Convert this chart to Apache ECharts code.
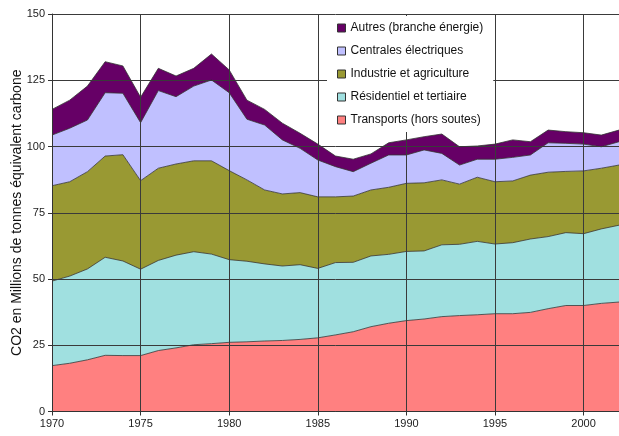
<!DOCTYPE html>
<html>
<head>
<meta charset="utf-8">
<script src="https://cdn.jsdelivr.net/npm/echarts@6/dist/echarts.min.js"></script>
<style>
    html, body { margin: 0; padding: 0; background: #fff; }
    #main { width: 619px; height: 436px; }
</style>
</head>
<body>
<div id="main"></div>
<script>
// années
var years = []
for (var y = 1970; y <= 2002; y++) years.push(String(y))

// valeurs par secteur (MtC)
var transports = [17.3, 18.2, 19.5, 21.2, 21.1, 21.1, 23, 24, 25.2, 25.6, 26.1, 26.3, 26.6, 26.8, 27.2, 27.8, 28.9, 30.1, 32, 33.3, 34.3, 34.9, 35.8, 36.2, 36.5, 36.9, 36.9, 37.4, 38.8, 40, 40, 40.8, 41.3]
var residentiel = [31.9, 32.9, 34.3, 37, 35.7, 32.6, 34, 35, 35.1, 33.8, 31.2, 30.4, 29.1, 28.1, 28.2, 26.2, 27.3, 26.2, 26.7, 26, 26.1, 25.7, 27.1, 26.9, 27.7, 26.3, 26.8, 27.7, 27.2, 27.5, 27.1, 28.1, 29]
var industrie = [36, 35.6, 36.7, 38.2, 40.1, 33.4, 34.8, 34.4, 34.3, 35.2, 33.6, 30.7, 27.9, 27.2, 27.2, 27, 24.8, 25, 24.9, 25.3, 25.7, 25.7, 24.5, 22.7, 24.2, 23.5, 23.3, 24.1, 24.3, 23.1, 23.7, 22.9, 22.7]
var centrales = [19.1, 20.2, 19.5, 23.9, 23.2, 21.9, 29.3, 25.4, 28.2, 30.5, 29.4, 22.9, 24.5, 20.4, 16.7, 13.9, 11.4, 9.2, 10.1, 12.2, 10.7, 12.4, 10, 7.2, 6.8, 8.5, 8.9, 7.6, 11.1, 10.6, 10.1, 8.1, 8.8]
var autres = [9.7, 10.6, 12.8, 11.7, 10.3, 9.6, 8.4, 7.8, 6.7, 9.8, 8.6, 7.2, 5.9, 6.3, 5.7, 6, 4, 4.7, 3.5, 4.6, 5.7, 5, 7.3, 6.9, 5, 5.7, 6.6, 5, 4.8, 4.4, 4.3, 4.4, 4.4]

var names = ['Transports (hors soutes)', 'Résidentiel et tertiaire', 'Industrie et agriculture', 'Centrales électriques', 'Autres (branche énergie)']
var colors = ['#ff8080', '#a0e0e0', '#999933', '#c0c0ff', '#660066']
var values = [transports, residentiel, industrie, centrales, autres]

var every5 = (i) => i % 5 === 0
var font = 'Liberation Sans, Arial, sans-serif'

var chart = echarts.init(document.getElementById('main'))

chart.setOption({
    animation: false,
    textStyle: { fontFamily: font },
    grid: { left: 52, right: 0, top: 14, bottom: 24.5, containLabel: false, outerBoundsMode: 'none' },
    legend: {
        orient: 'vertical',
        left: 327,
        top: 16,
        z: 10,
        padding: [6, 10, 6, 10],
        itemGap: 11,
        itemWidth: 8,
        itemHeight: 8,
        backgroundColor: '#fff',
        icon: 'rect',
        itemStyle: { borderColor: '#333', borderWidth: 1 },
        textStyle: { fontSize: 12, color: '#111', fontFamily: font },
        data: names.slice().reverse()
    },
    xAxis: {
        type: 'category',
        boundaryGap: false,
        data: years,
        z: 5,
        axisLine: { lineStyle: { color: '#333' } },
        axisTick: { interval: every5, length: 4, lineStyle: { color: '#333' } },
        axisLabel: { interval: every5, fontSize: 11, color: '#222', margin: 7 },
        splitLine: { show: true, interval: every5, lineStyle: { color: '#3a3a3a', width: 1 } }
    },
    yAxis: {
        type: 'value',
        min: 0,
        max: 150,
        interval: 25,
        z: 5,
        name: 'CO2 en Millions de tonnes équivalent carbone',
        nameLocation: 'middle',
        nameGap: 28,
        nameMoveOverlap: false,
        nameTextStyle: { fontSize: 14, color: '#111' },
        axisLine: { show: true, lineStyle: { color: '#333' } },
        axisTick: { show: true, length: 4, lineStyle: { color: '#333' } },
        axisLabel: { fontSize: 11, color: '#222', margin: 7 },
        splitLine: { lineStyle: { color: '#3a3a3a', width: 1 } }
    },
    series: names.map((n, i) => ({
        name: n,
        type: 'line',
        stack: 'total',
        data: values[i],
        showSymbol: false,
        symbol: 'none',
        color: colors[i],
        lineStyle: { color: '#333', width: 0.8 },
        areaStyle: { color: colors[i], opacity: 1 }
    }))
})
</script>
</body>
</html>
